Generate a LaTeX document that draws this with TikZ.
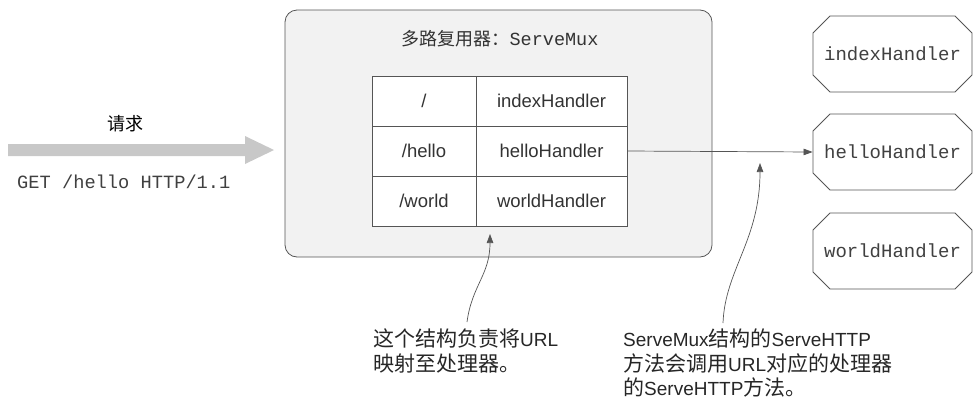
\documentclass[tikz,border=0pt]{standalone}
\usepackage{fontspec}
\setmainfont{Liberation Sans}
\setmonofont{Liberation Mono}
\newfontfamily\cjk{Noto Sans CJK SC}
\usetikzlibrary{arrows.meta,shapes.misc}
\newcommand{\zh}[1]{{\cjk\fontsize{21}{24.5}\selectfont #1}}
\definecolor{linegray}{HTML}{555555}
\definecolor{boxfill}{HTML}{F2F2F2}
\definecolor{reqgray}{HTML}{C8C8C8}

\begin{document}
\begin{tikzpicture}[x=1pt,y=-1pt,
  line/.style={draw=linegray, line width=0.8pt},
  cell/.style={line, fill=white, minimum height=50pt, inner sep=0pt,
    font=\fontsize{18.5}{20}\selectfont, text=black!80},
  hbox/.style={line, chamfered rectangle, chamfered rectangle xsep=10pt,
    chamfered rectangle ysep=10pt, minimum width=159pt, minimum height=76pt,
    inner sep=0pt, font=\ttfamily\fontsize{19}{20}\selectfont, text=black!75},
  note/.style={anchor=north west, inner sep=0pt, align=left,
    font=\fontsize{19}{24.5}\selectfont, text=black!85},
  tip/.style={-{Triangle[length=9pt,width=6.5pt]}, draw=linegray, line width=0.7pt}]
\useasboundingbox (0,0) rectangle (973,400);

% request
\fill[reqgray] (8,144) -- (245,144) -- (245,136) -- (274,150) -- (245,164)
  -- (245,156) -- (8,156) -- cycle;
\node (reqlabel) at (125,124) {\cjk\fontsize{18}{20}\selectfont 请求};
\node[anchor=base west, inner sep=0pt, text=black!75] (reqline) at (17,188)
  {\ttfamily\fontsize{18.7}{20}\selectfont GET /hello HTTP/1.1};

% multiplexer
\draw[line, fill=boxfill, rounded corners=12pt] (285,10) rectangle (712,257);
\node[anchor=base, inner sep=0pt, text=black!80] (muxtitle) at (500,45)
  {\cjk\fontsize{18}{20}\selectfont 多路复用器：\ttfamily\fontsize{18.5}{20}\selectfont ServeMux};

\node[cell, minimum width=104pt] (url1) at (424,101) {/};
\node[cell, minimum width=151pt] (hdl1) at (551.5,101) {indexHandler};
\node[cell, minimum width=104pt] (url2) at (424,151) {/hello};
\node[cell, minimum width=151pt] (hdl2) at (551.5,151) {helloHandler};
\node[cell, minimum width=104pt] (url3) at (424,201) {/world};
\node[cell, minimum width=151pt] (hdl3) at (551.5,201) {worldHandler};

% handlers
\node[hbox] (hindex) at (892.5,54) {indexHandler};
\node[hbox] (hhello) at (892.5,152) {helloHandler};
\node[hbox] (hworld) at (892.5,251) {worldHandler};

\draw[tip] (hdl2.east) -- (hhello.west);

% notes
\node[note] (note1) at (373,329)
  {\zh{这个结构负责将}URL\\\zh{映射至处理器。}};
\node[note] (note2) at (623,329)
  {ServeMux\zh{结构的}ServeHTTP\\\zh{方法会调用}URL\zh{对应的处理器}\\\zh{的}ServeHTTP\zh{方法。}};

\coordinate (from1) at (467,322);
\coordinate (to1) at (490,234);
\coordinate (from2) at (723,323);
\coordinate (to2) at (760,163);
\draw[tip] (from1) .. controls (472,285) and (490,275) .. (to1);
\draw[tip] (from2) .. controls (725,270) and (760,240) .. (to2);
\end{tikzpicture}
\end{document}
